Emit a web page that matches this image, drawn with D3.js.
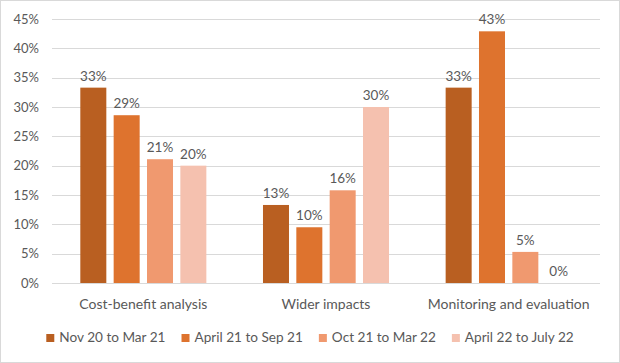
<!DOCTYPE html>
<html><head><meta charset="utf-8">
<script src="https://cdn.jsdelivr.net/npm/d3@7"></script>
<style>body{margin:0;background:#fff}svg{display:block}text{font-family:Lato,"Liberation Sans",sans-serif;fill:#595959}</style>
</head><body>
<svg id="c" width="620" height="363"></svg>
<script>
const categories = ["Cost-benefit analysis", "Wider impacts", "Monitoring and evaluation"];
const seriesNames = ["Nov 20 to Mar 21", "April 21 to Sep 21", "Oct 21 to Mar 22", "April 22 to July 22"];
const nov20Mar21 = [33.3, 13.3, 33.3];
const apr21Sep21 = [28.6, 9.5, 42.9];
const oct21Mar22 = [21.1, 15.8, 5.3];
const apr22Jul22 = [20.0, 30.0, 0.0];
const labels = [["33%","13%","33%"],["29%","10%","43%"],["21%","16%","5%"],["20%","30%","0%"]];
const yTicks = [0,5,10,15,20,25,30,35,40,45];
const colors = ["#b95f21","#de732e","#f0996f","#f5c1af"];

const series = [nov20Mar21, apr21Sep21, oct21Mar22, apr22Jul22];
const svg = d3.select("#c");
svg.append("rect").attr("x",0.5).attr("y",0.5).attr("width",619).attr("height",362)
  .attr("fill","#fff").attr("stroke","#d9d9d9");

const y = d3.scaleLinear().domain([0,45]).range([283,19]);
const x0 = d3.scaleBand().domain(categories).range([52,600]).paddingInner(0.31).paddingOuter(0.155);
const x1 = d3.scaleBand().domain(d3.range(4)).range([0,x0.bandwidth()]).paddingInner(0.22).paddingOuter(0);

const grid = svg.append("g");
grid.selectAll("line").data(yTicks).join("line")
  .attr("x1",52).attr("x2",600).attr("y1",d=>Math.round(y(d))+0.5).attr("y2",d=>Math.round(y(d))+0.5)
  .attr("stroke","#d9d9d9").attr("stroke-width",1);

const yAxis = d3.axisLeft(y).tickValues(yTicks).tickFormat(d=>d+"%").tickSize(0).tickPadding(0);
const ya = svg.append("g").attr("transform","translate(39,0)").call(yAxis);
ya.select(".domain").remove();
ya.selectAll("text").style("font-size","13px").attr("fill","#595959").style("font-family","Lato,'Liberation Sans',sans-serif");

const g = svg.append("g");
series.forEach((vals,si)=>{
  categories.forEach((c,ci)=>{
    const bx = x0(c)+x1(si);
    g.append("rect").attr("x",bx).attr("y",y(vals[ci])).attr("width",x1.bandwidth())
      .attr("height",y(0)-y(vals[ci])).attr("fill",colors[si]);
    g.append("text").attr("x",bx+x1.bandwidth()/2).attr("y",y(vals[ci])-7)
      .attr("text-anchor","middle").style("font-size","13.5px").text(labels[si][ci]);
  });
});

const xAxis = d3.axisBottom(x0).tickSize(0).tickPadding(0);
const xa = svg.append("g").attr("transform","translate(0,309)").call(xAxis);
xa.select(".domain").remove();
xa.selectAll("text").style("font-size","14px").attr("fill","#595959").style("font-family","Lato,'Liberation Sans',sans-serif").attr("dy","0");

const leg = svg.append("g");
let lx = 0;
seriesNames.forEach((n,i)=>{
  leg.append("rect").attr("x",lx).attr("y",334).attr("width",8).attr("height",8).attr("fill",colors[i]);
  const t = leg.append("text").attr("x",lx+13).attr("y",342).style("font-size","13.6px").text(n);
  lx += 13 + t.node().getComputedTextLength() + 16;
});
const total = lx - 16;
leg.attr("transform",`translate(${(620-total)/2},0)`);
</script>
</body></html>
